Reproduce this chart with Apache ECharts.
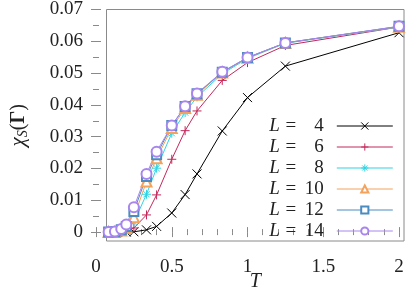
<!DOCTYPE html>
<html>
<head>
<meta charset="utf-8">
<script src="https://cdn.jsdelivr.net/npm/echarts@6/dist/echarts.min.js"></script>
<style>html,body{margin:0;padding:0;background:#fff}#c{width:407px;height:297px}</style>
</head>
<body>
<div id="c"></div>
<script>
// ---- data ----
const T_L4 = [0.2, 0.25, 0.3333, 0.4, 0.5, 0.5882, 0.6667, 0.8333, 1, 1.25, 2];
const T_ALL = [0.0833, 0.125, 0.1667, 0.2, 0.25, 0.3333, 0.4, 0.5, 0.5882, 0.6667, 0.8333, 1, 1.25, 2];
const chi_L4  = [0, 0.0001, 0.0007, 0.0018, 0.0060, 0.0118, 0.0183, 0.0318, 0.0423, 0.0522, 0.0627];
const chi_L6  = [0, 0, 0, 0.0003, 0.0013, 0.0054, 0.0117, 0.0229, 0.0319, 0.0381, 0.0477, 0.0533, 0.0587, 0.0645];
const chi_L8  = [0, 0, 0.0003, 0.0008, 0.0031, 0.0119, 0.0201, 0.0311, 0.0376, 0.0425, 0.0498, 0.0546, 0.0594, 0.0645];
const chi_L10 = [0, 0, 0.0005, 0.0013, 0.0047, 0.0159, 0.0232, 0.0327, 0.0390, 0.0432, 0.0502, 0.0548, 0.0595, 0.0646];
const chi_L12 = [0, 0.0001, 0.0007, 0.0018, 0.0065, 0.0175, 0.0243, 0.0335, 0.0395, 0.0435, 0.0503, 0.0549, 0.0595, 0.0647];
const chi_L14 = [0, 0.0002, 0.0010, 0.0024, 0.0078, 0.0183, 0.0253, 0.0335, 0.0396, 0.0436, 0.0504, 0.0549, 0.0595, 0.0647];
const seriesNames = ['L = 4', 'L = 6', 'L = 8', 'L = 10', 'L = 12', 'L = 14'];
const xTicks = [0, 0.5, 1, 1.5, 2];
const yTicks = [0, 0.01, 0.02, 0.03, 0.04, 0.05, 0.06, 0.07];

// ---- styles ----
const FONT = 'Liberation Serif';
const GRAY = '#8a8a8a';
const TXT = '#222';
const colors = ['#000000', '#c3285a', '#2fd3e3', '#f4a25c', '#4b8cc0', '#a986ee'];
const symbols = [
  'path://M0,0L10,10M10,0L0,10',
  'path://M5,0L5,10M0,5L10,5',
  'path://M5,0L5,10M0,5L10,5M1.5,1.5L8.5,8.5M8.5,1.5L1.5,8.5',
  'emptyTriangle', 'emptyRect', 'emptyCircle'
];
const sizes = [9, 9, 9, 10, 9, 10];
const xs = [T_L4, T_ALL, T_ALL, T_ALL, T_ALL, T_ALL];
const ys = [chi_L4, chi_L6, chi_L8, chi_L10, chi_L12, chi_L14];

const isPath = s => s.startsWith('path');
const styleFor = i => isPath(symbols[i])
  ? { color: 'rgba(0,0,0,0)', borderColor: colors[i], borderWidth: 1 }
  : { color: colors[i], borderColor: colors[i], borderWidth: 1 };
const series = seriesNames.map((n, i) => ({
  name: n, type: 'line', xAxisIndex: 0, yAxisIndex: 0,
  data: xs[i].map((t, k) => [t, ys[i][k]]),
  symbol: symbols[i], symbolSize: sizes[i], clip: false,
  lineStyle: { color: colors[i], width: 1 },
  itemStyle: styleFor(i),
  emphasis: { disabled: true }
}));

const legendData = seriesNames.map((n, i) => ({
  name: n,
  itemStyle: styleFor(i),
  lineStyle: { color: colors[i], width: 1 }
}));

const tickLbl = { fontFamily: FONT, fontSize: 19, color: TXT };
const chart = echarts.init(document.getElementById('c'), null, { renderer: 'canvas' });
chart.setOption({
  animation: false,
  backgroundColor: '#fff',
  grid: [
    { left: 96, right: 8, top: 9.5, bottom: 64.9, containLabel: false },
    { left: 96, right: 3, top: 9.5, bottom: 49, show: true, borderColor: GRAY, borderWidth: 1, backgroundColor: 'transparent' }
  ],
  xAxis: [
    { type: 'value', gridIndex: 0, position: 'bottom', offset: 15.9, min: xTicks[0], max: xTicks[xTicks.length - 1], interval: 0.5,
      axisLine: { show: false }, splitLine: { show: false },
      axisTick: { inside: true, length: 5, lineStyle: { color: GRAY } },
      minorTick: { show: true, splitNumber: 5, length: 3, lineStyle: { color: GRAY } },
      axisLabel: Object.assign({ margin: 10, formatter: v => String(v) }, tickLbl) },
    { type: 'value', gridIndex: 0, position: 'top', min: 0, max: 2, interval: 0.5,
      axisLine: { show: false }, splitLine: { show: false }, axisLabel: { show: false },
      axisTick: { inside: true, length: 5, lineStyle: { color: GRAY } },
      minorTick: { show: true, splitNumber: 5, length: 3, lineStyle: { color: GRAY } } },
    { type: 'value', gridIndex: 1, min: 0, max: 1, show: true,
      axisLine: { show: false }, axisTick: { show: false }, axisLabel: { show: false }, splitLine: { show: false },
      name: 'T', nameLocation: 'middle', nameGap: 31,
      nameTextStyle: { fontFamily: FONT, fontSize: 20, fontStyle: 'italic', color: TXT } }
  ],
  yAxis: [
    { type: 'value', gridIndex: 0, position: 'left', min: yTicks[0], max: yTicks[yTicks.length - 1], interval: 0.01,
      axisLine: { show: false }, splitLine: { show: false },
      axisTick: { inside: true, length: 5, lineStyle: { color: GRAY } },
      minorTick: { show: true, splitNumber: 2, length: 3, lineStyle: { color: GRAY } },
      axisLabel: Object.assign({ margin: 13, formatter: v => (v === 0 ? '0' : v.toFixed(2)) }, tickLbl) },
    { type: 'value', gridIndex: 0, position: 'right', offset: 5, min: 0, max: 0.07, interval: 0.01,
      axisLine: { show: false }, splitLine: { show: false }, axisLabel: { show: false },
      axisTick: { inside: true, length: 5, lineStyle: { color: GRAY } },
      minorTick: { show: true, splitNumber: 2, length: 3, lineStyle: { color: GRAY } } },
    { type: 'value', gridIndex: 1, min: 0, max: 1, show: true,
      axisLine: { show: false }, axisTick: { show: false }, axisLabel: { show: false }, splitLine: { show: false },
      name: '{c|χ}{s|S}{p|(}{g|Γ}{p|)}', nameLocation: 'middle', nameGap: 76, nameRotate: 90,
      nameTextStyle: { color: TXT, fontFamily: FONT, fontSize: 20,
        rich: {
          c: { fontFamily: FONT, fontSize: 21, fontStyle: 'italic', color: TXT },
          s: { fontFamily: FONT, fontSize: 14, fontStyle: 'italic', color: TXT, verticalAlign: 'bottom', padding: [10, 0, 0, 0] },
          p: { fontFamily: FONT, fontSize: 20, color: TXT },
          g: { fontFamily: FONT, fontSize: 20, fontWeight: 'bold', color: TXT }
        } } }
  ],
  legend: {
    orient: 'vertical', right: 13.7, top: 115.5, align: 'right', padding: 0, itemGap: 0,
    itemWidth: 56, itemHeight: 9, selectedMode: false,
    data: legendData,
    formatter: name => '{l|L}{e|=}{n|' + name.split('= ')[1] + '}',
    textStyle: {
      fontFamily: FONT, fontSize: 19, color: TXT, lineHeight: 21,
      rich: {
        l: { fontFamily: FONT, fontSize: 19, fontStyle: 'italic', color: TXT, lineHeight: 21 },
        e: { fontFamily: FONT, fontSize: 19, color: TXT, lineHeight: 21, width: 22, align: 'center' },
        n: { fontFamily: FONT, fontSize: 19, color: TXT, lineHeight: 21, width: 22, align: 'right', padding: [0, 8, 0, 0] }
      }
    }
  },
  series: series
});
</script>
</body>
</html>
